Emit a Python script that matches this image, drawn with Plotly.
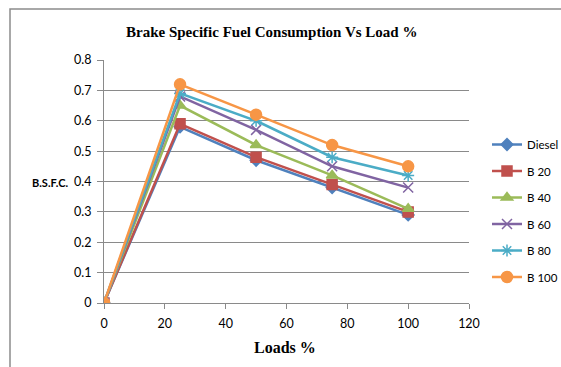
import plotly.graph_objects as go

loads = [0, 25, 50, 75, 100]
diesel = [0, 0.58, 0.47, 0.38, 0.29]
b20 = [0, 0.59, 0.48, 0.39, 0.30]
b40 = [0, 0.65, 0.52, 0.42, 0.31]
b60 = [0, 0.68, 0.57, 0.45, 0.38]
b80 = [0, 0.69, 0.60, 0.48, 0.42]
b100 = [0, 0.72, 0.62, 0.52, 0.45]

series_names = ["Diesel", "B 20", "B 40", "B 60", "B 80", "B 100"]
series_values = [diesel, b20, b40, b60, b80, b100]
colors = ["#4F81BD", "#C0504D", "#9BBB59", "#8064A2", "#4BACC6", "#F79646"]
symbols = ["diamond", "square", "triangle-up", "x-thin-open", "asterisk-open", "circle"]
msizes = [9, 10, 10, 10, 10, 11]

title_text = "Brake Specific Fuel Consumption Vs Load %"
x_title = "Loads %"
y_title = "B.S.F.C."

fig = go.Figure()
for name, vals, c, s, ms in zip(series_names, series_values, colors, symbols, msizes):
    fig.add_trace(go.Scatter(
        x=loads, y=vals, name=name, mode="lines+markers", legendgroup=name,
        line=dict(color=c, width=2.5),
        marker=dict(symbol=s, size=ms, color=c, line=dict(color=c, width=1.5)),
    ))

W, H = 561, 367
L, R, T, B = 104, 92, 60, 64
pw = W - L - R
ph = H - T - B

grid = "#8a8a8a"
fig.update_layout(
    width=W, height=H,
    margin=dict(l=L, r=R, t=T, b=B, pad=0, autoexpand=False),
    paper_bgcolor="white", plot_bgcolor="white",
    font=dict(family="Lato, Open Sans, sans-serif", size=12, color="#000"),
    showlegend=True,
    legend=dict(
        x=(487 - L) / pw, y=(H - B - 130) / ph, xanchor="left", yanchor="top",
        font=dict(size=11.5, family="Lato, sans-serif"),
        tracegroupgap=7.5, itemwidth=30, bgcolor="rgba(0,0,0,0)",
    ),
    xaxis=dict(
        range=[0, 120], tickvals=[0, 20, 40, 60, 80, 100, 120],
        showgrid=False, zeroline=False, showline=True, linecolor=grid, linewidth=1,
        ticks="outside", ticklen=5, tickcolor=grid, tickfont=dict(size=12.5),
        ticklabelstandoff=4,
    ),
    yaxis=dict(
        range=[0, 0.8], tickvals=[0, 0.1, 0.2, 0.3, 0.4, 0.5, 0.6, 0.7, 0.8],
        ticktext=["0", "0.1", "0.2", "0.3", "0.4", "0.5", "0.6", "0.7", "0.8"],
        showgrid=True, gridcolor=grid, gridwidth=1, zeroline=False,
        showline=True, linecolor=grid, linewidth=1,
        ticks="outside", ticklen=6, tickcolor=grid, tickfont=dict(size=12.5),
        ticklabelstandoff=3,
    ),
    annotations=[
        dict(text="<b>" + title_text + "</b>", xref="paper", yref="paper",
             x=(271 - L) / pw, y=(H - B - 32) / ph, xanchor="center", yanchor="middle",
             showarrow=False, font=dict(family="Liberation Serif", size=15)),
        dict(text="<b>" + x_title + "</b>", xref="paper", yref="paper",
             x=(285 - L) / pw, y=(H - B - 347) / ph, xanchor="center", yanchor="middle",
             showarrow=False, font=dict(family="Liberation Serif", size=16)),
        dict(text="<b>" + y_title + "</b>", xref="paper", yref="paper",
             x=(70 - L) / pw, y=(H - B - 182) / ph, xanchor="right", yanchor="middle",
             showarrow=False, font=dict(family="Lato, sans-serif", size=11)),
    ],
    shapes=[
        dict(type="rect", xref="paper", yref="paper",
             x0=(10 - L) / pw, x1=(W + 5 - L) / pw,
             y0=(H - B - (H + 5)) / ph, y1=(H - B - 9) / ph,
             line=dict(color="#8c8c8c", width=1.5), fillcolor="rgba(0,0,0,0)", layer="below"),
    ],
)

fig.write_html("out.html")
